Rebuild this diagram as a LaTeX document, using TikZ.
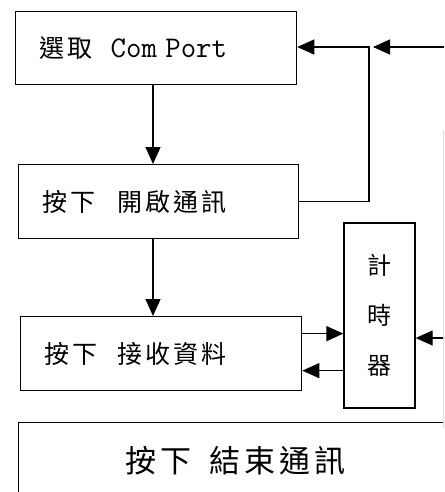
\documentclass[tikz,border=0pt]{standalone}
\usepackage{fontspec}
\newfontfamily\cjk{Noto Sans CJK TC}
\usetikzlibrary{arrows.meta}
\newcommand\gap{\hspace{3pt}}
\newcommand\wgap{\hspace{4pt}}
\tikzset{
  box/.style={draw, line width=1.3pt, rectangle, anchor=north west,
    inner xsep=24pt, inner ysep=0pt, align=left,
    font=\cjk\fontsize{25}{28}\selectfont},
  arr/.style={line width=1.3pt, -{Triangle[length=17pt 0 0,width=15pt 0 0]}},
  wire/.style={line width=1.3pt}
}
\begin{document}
\begin{tikzpicture}[x=1pt,y=-1pt]
  \useasboundingbox (0,0) rectangle (444,492);
  \clip (0,0) rectangle (444,492);

  % process boxes
  \node[box, minimum width=281pt, minimum height=73pt, text width=233pt] (b1) at (15,11)
    {\raisebox{-5pt}{選\gap 取\hspace{18pt}{\ttfamily\fontsize{30}{32}\selectfont Com Port}}};
  \node[box, minimum width=280pt, minimum height=74pt, text width=232pt] (b2) at (18,164)
    {\raisebox{-3.5pt}{按\gap 下\hspace{22pt}開\gap 啟\gap 通\gap 訊}};
  \node[box, minimum width=281pt, minimum height=74pt, text width=233pt] (b3) at (20,316)
    {\raisebox{-5pt}{按\gap 下\hspace{20pt}接\gap 收\gap 資\gap 料}};

  % timer
  \node[draw, line width=1.3pt, minimum width=71pt, minimum height=185pt, align=center,
    inner sep=0pt, font=\cjk\fontsize{24}{50}\selectfont] (t) at (379.5,315.5)
    {計\\時\\器};

  % stop box, running past the right and bottom edges
  \node[draw, line width=1.3pt, anchor=north west, minimum width=434pt, minimum height=76pt,
    inner sep=0pt, font=\cjk\fontsize{31}{34}\selectfont] (b4) at (18,422)
    {\raisebox{-2pt}{按\wgap 下\hspace{18pt}結\wgap 束\wgap 通\wgap 訊}};

  % helper points
  \coordinate (ax) at (153,0);
  \coordinate (j) at (369,47);
  \coordinate (in1) at (446,47);
  \coordinate (in2) at (446,338);

  % flow
  \draw[arr] (b1.south -| ax) -- (b2.north -| ax);
  \draw[arr] (b2.south -| ax) -- (b3.north -| ax);
  \draw[arr] (b2.east) -| (j) -- (b1.east |- j);
  \draw[arr, shorten >=4pt] (in1) -- (j);
  \draw[arr] ([yshift=20pt]b3.east) -- ([yshift=20pt]b3.east -| t.west);
  \draw[arr] ([yshift=-17pt]b3.east -| t.west) -- ([yshift=-17pt]b3.east);
  \draw[arr] (in2) -- (in2 -| t.east);

  % faint return line at the right edge
  \draw[black!12, line width=0.6pt] (443.5,130) -- (443.5,428);
\end{tikzpicture}
\end{document}
